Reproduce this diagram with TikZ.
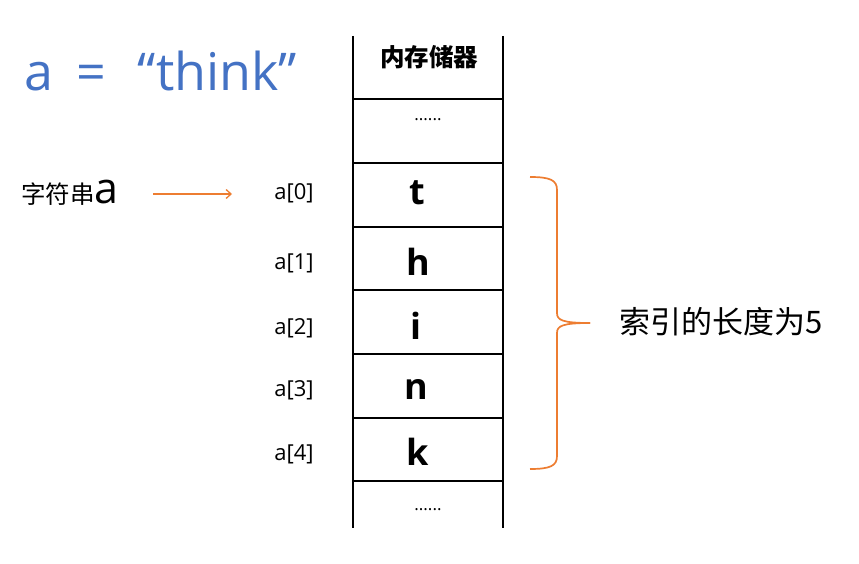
\documentclass[tikz,border=0pt]{standalone}
\usepackage{fontspec}
\setmainfont{Open Sans}
\newfontfamily\cjk{Noto Sans CJK SC}
\usetikzlibrary{arrows.meta}
\definecolor{tblue}{HTML}{4472C4}
\definecolor{torange}{HTML}{ED7D31}
\begin{document}
\begin{tikzpicture}[x=1pt,y=-1pt,
  lbl/.style={inner sep=0pt, font=\fontsize{22}{22}\selectfont},
  cell/.style={inner sep=0pt, font=\fontsize{36}{36}\selectfont\bfseries},
  dots/.style={inner sep=0pt, anchor=base, font=\fontsize{17}{17}\selectfont},
  gridline/.style={line width=1.2pt},
  orange line/.style={torange, line width=1.7pt}]
\useasboundingbox (0,0) rectangle (859,564);
% title
\node[anchor=base west, inner sep=0pt, text=tblue, font=\fontsize{52}{52}\selectfont] (title) at (24,91) {a\hspace{23pt}=\hspace{32pt}“think”};
% memory column
\draw[gridline] (353,36) -- (353,528);
\draw[gridline] (503,36) -- (503,528);
\foreach \yy in {99,163,227,290,354,418,481}
  \draw[gridline] (353,\yy) -- (503,\yy);
\node[inner sep=0pt, font=\cjk\bfseries\fontsize{24.5}{24.5}\selectfont] (mem) at (429,57) {内存储器};
\node[dots] (d1) at (428,121) {......};
\node[dots] (d2) at (428,510) {......};
\node[cell] (c0) at (417,193) {t};
\node[cell] (c1) at (418,262) {h};
\node[cell] (c2) at (416,326) {i};
\node[cell] (c3) at (416,389) {n};
\node[cell] (c4) at (418,452) {k};
% index labels
\node[lbl] (i0) at (294,193) {a[0]};
\node[lbl] (i1) at (294,263) {a[1]};
\node[lbl] (i2) at (294,328) {a[2]};
\node[lbl] (i3) at (294,390) {a[3]};
\node[lbl] (i4) at (294,454) {a[4]};
% string label
\node[anchor=base west, inner sep=0pt] (str) at (21,204) {{\cjk\fontsize{24.5}{24.5}\selectfont 字符串}{\fontsize{43}{43}\selectfont a}};
% arrow
\coordinate (aS) at (153,194);
\coordinate (aE) at (232,194);
\draw[torange, line width=1.3pt, -{Straight Barb[length=5pt,width=9pt]}] (aS) -- (aE);
% brace
\coordinate (bT) at (530,177);
\coordinate (bB) at (530,469);
\coordinate (bM) at (590,323);
\draw[orange line] (bT) .. controls (550,177) and (557,180) .. (557,190) -- (557,313)
  .. controls (557,320) and (562,323) .. (bM);
\draw[orange line] (bB) .. controls (550,469) and (557,466) .. (557,456) -- (557,333)
  .. controls (557,326) and (562,323) .. (bM);
\node[anchor=west, inner sep=0pt, font=\cjk\fontsize{31}{31}\selectfont] (len) at (619,322) {索引的长度为5};
\end{tikzpicture}
\end{document}
